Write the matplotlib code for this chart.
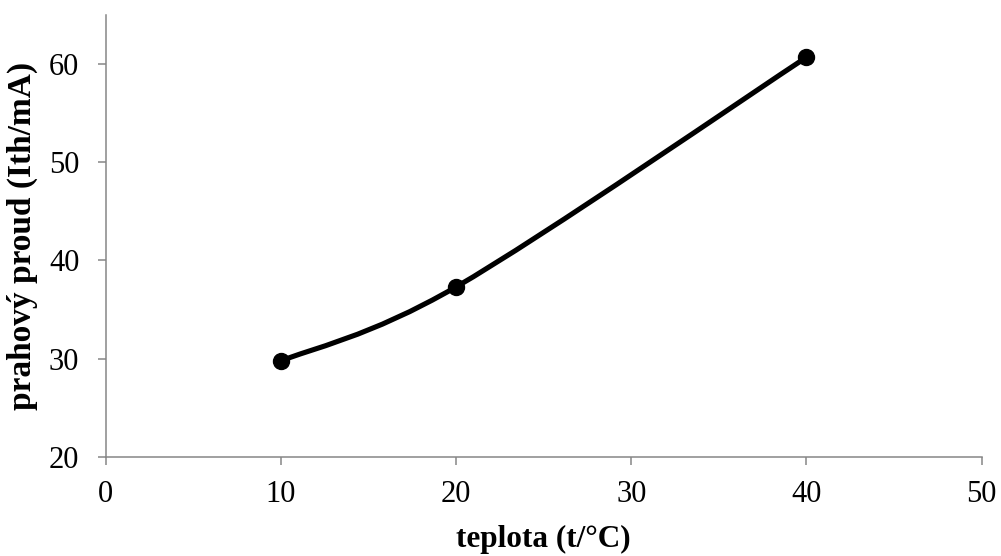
import numpy as np
import matplotlib.pyplot as plt
from matplotlib.path import Path
from matplotlib.patches import PathPatch

# threshold current vs temperature
teplota = [10, 20, 40]
proud = [29.75, 37.3, 60.7]

plt.rcParams['font.family'] = ['Liberation Serif', 'DejaVu Serif']

fig = plt.figure(figsize=(10.01, 5.56), dpi=100)
ax = fig.add_axes([0.1056, 0.1786, 0.8751, 0.7944])

# smooth line like Excel (Catmull-Rom -> cubic Bezier)
pts = np.column_stack([teplota, proud])
ext = np.vstack([pts[0], pts, pts[-1]])
verts = [tuple(pts[0])]
codes = [Path.MOVETO]
for i in range(len(pts) - 1):
    p0, p1, p2, p3 = ext[i], ext[i + 1], ext[i + 2], ext[i + 3]
    c1 = p1 + (p2 - p0) / 6
    c2 = p2 - (p3 - p1) / 6
    verts += [tuple(c1), tuple(c2), tuple(p2)]
    codes += [Path.CURVE4] * 3
ax.add_patch(PathPatch(Path(verts, codes), fill=False, lw=3.7, color='black',
                       capstyle='round', joinstyle='round'))
ax.plot(teplota, proud, 'o', color='black', markersize=11.5, zorder=3)

ax.set_xlim(0, 50)
ax.set_ylim(20, 65)
ax.set_xticks([0, 10, 20, 30, 40, 50])
ax.set_yticks([20, 30, 40, 50, 60])

for s in ['top', 'right']:
    ax.spines[s].set_visible(False)
for s in ['left', 'bottom']:
    ax.spines[s].set_color('#868686')
    ax.spines[s].set_linewidth(1.1)
ax.tick_params(direction='out', length=6, width=1.1, color='#868686',
               labelsize=22)
ax.tick_params(axis='x', pad=11)
ax.tick_params(axis='y', pad=13)

ax.set_xlabel('teplota (t/°C)', fontsize=22.5, fontweight='bold', labelpad=11)
ax.set_ylabel('prahový proud (Ith/mA)', fontsize=24, fontweight='bold', labelpad=8)

fig.savefig('out.png', dpi=100)
